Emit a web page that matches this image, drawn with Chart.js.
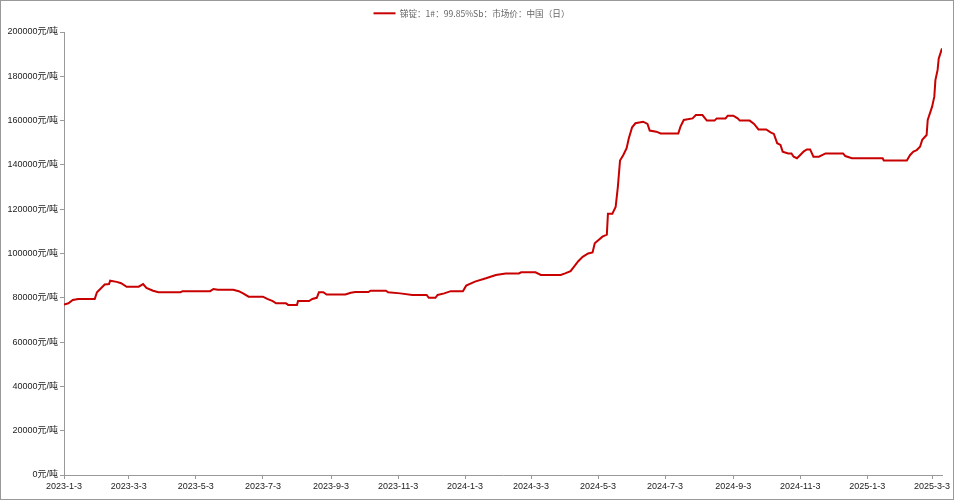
<!DOCTYPE html>
<html>
<head>
<meta charset="utf-8">
<title>锑锭价格</title>
<script src="https://cdn.jsdelivr.net/npm/chart.js@4.4.1/dist/chart.umd.min.js"></script>
<style>
  html, body { margin: 0; padding: 0; background: #fff; }
  #wrap { width: 954px; height: 500px; box-sizing: border-box; border: 1px solid #999; }
  canvas { display: block; }
</style>
</head>
<body>
<div id="wrap"><canvas id="priceChart" width="952" height="498"></canvas></div>
<script>
/* ------------------------------------------------
   Data
------------------------------------------------ */
const seriesName = '锑锭：1#：99.85%Sb：市场价：中国（日）';

const dates = [
  '2023-01-03','2023-01-07','2023-01-11','2023-01-16','2023-01-31','2023-02-02','2023-02-05','2023-02-09',
  '2023-02-13','2023-02-14','2023-02-20','2023-02-24','2023-03-01','2023-03-12','2023-03-16','2023-03-19',
  '2023-03-25','2023-03-30','2023-04-19','2023-04-21','2023-05-16','2023-05-19','2023-05-23','2023-06-06',
  '2023-06-11','2023-06-15','2023-06-20','2023-07-03','2023-07-07','2023-07-12','2023-07-15','2023-07-24',
  '2023-07-26','2023-08-03','2023-08-04','2023-08-14','2023-08-17','2023-08-21','2023-08-23','2023-08-27',
  '2023-08-30','2023-09-16','2023-09-21','2023-09-25','2023-10-07','2023-10-09','2023-10-23','2023-10-25',
  '2023-11-05','2023-11-16','2023-11-29','2023-12-01','2023-12-07','2023-12-09','2023-12-15','2023-12-21',
  '2024-01-01','2024-01-04','2024-01-12','2024-01-22','2024-01-31','2024-02-09','2024-02-21','2024-02-23',
  '2024-03-07','2024-03-12','2024-03-30','2024-04-03','2024-04-08','2024-04-11','2024-04-15','2024-04-19',
  '2024-04-24','2024-04-28','2024-04-30','2024-05-07','2024-05-11','2024-05-12','2024-05-16','2024-05-19',
  '2024-05-21','2024-05-23','2024-05-26','2024-05-29','2024-05-31','2024-06-03','2024-06-06','2024-06-13',
  '2024-06-17','2024-06-19','2024-06-25','2024-06-29','2024-07-15','2024-07-17','2024-07-20','2024-07-28',
  '2024-07-31','2024-08-06','2024-08-10','2024-08-17','2024-08-19','2024-08-27','2024-08-29','2024-09-03',
  '2024-09-07','2024-09-09','2024-09-18','2024-09-22','2024-09-26','2024-10-03','2024-10-07','2024-10-10',
  '2024-10-13','2024-10-16','2024-10-18','2024-10-23','2024-10-26','2024-10-28','2024-10-31','2024-11-03',
  '2024-11-06','2024-11-09','2024-11-12','2024-11-15','2024-11-20','2024-11-26','2024-12-12','2024-12-14',
  '2024-12-20','2025-01-17','2025-01-18','2025-02-08','2025-02-11','2025-02-14','2025-02-17','2025-02-20',
  '2025-02-22','2025-02-26','2025-02-27','2025-03-03','2025-03-05','2025-03-06','2025-03-08','2025-03-09',
  '2025-03-12'
];

const prices = [
  77000, 77500, 79000, 79500, 79500, 82500, 84000, 86000,
  86200, 87700, 87200, 86600, 85000, 85000, 86200, 84500,
  83200, 82500, 82500, 83000, 83000, 84000, 83600, 83600,
  83000, 82000, 80500, 80500, 79500, 78500, 77500, 77500,
  76800, 76800, 78500, 78500, 79500, 80000, 82500, 82500,
  81500, 81500, 82300, 82600, 82600, 83200, 83200, 82500,
  82000, 81300, 81300, 80000, 80000, 81300, 82000, 83000,
  83000, 85500, 87300, 88800, 90300, 91000, 91000, 91500,
  91500, 90300, 90300, 91000, 92000, 94000, 96500, 98500,
  100000, 100500, 104600, 107600, 108500, 118000, 118000, 121000,
  130000, 142000, 144500, 147500, 152000, 157000, 158800, 159500,
  158500, 155500, 155000, 154200, 154200, 157300, 160300, 161000,
  162500, 162500, 160000, 160000, 161000, 161000, 162200, 162200,
  161000, 160000, 160000, 158500, 156000, 156000, 154700, 154000,
  149800, 149000, 146000, 145200, 145200, 143700, 143000, 144500,
  146000, 147000, 147000, 143700, 143700, 145200, 145200, 144000,
  143000, 143000, 142000, 142000, 144500, 146000, 146700, 148200,
  151300, 153500, 160300, 166300, 170800, 178300, 182900, 188000,
  192600
];

const tickDates = [
  '2023-1-3', '2023-3-3', '2023-5-3', '2023-7-3', '2023-9-3', '2023-11-3', '2024-1-3',
  '2024-3-3', '2024-5-3', '2024-7-3', '2024-9-3', '2024-11-3', '2025-1-3', '2025-3-3'
];

const yMax = 200000;
const yStep = 20000;
const unit = '元/吨';

/* ------------------------------------------------
   Helpers
------------------------------------------------ */
// days since the first date, so the x axis keeps calendar spacing
const origin = Date.UTC(2023, 0, 3);
const dayOf = (s) => {
  const [y, m, d] = s.split('-').map(Number);
  return Math.round((Date.UTC(y, m - 1, d) - origin) / 86400000);
};

const points = dates.map((d, i) => ({ x: dayOf(d), y: prices[i] }));
const axisColor = '#999';
const textColor = '#222';
const tickFont = { family: '"Liberation Sans", "Noto Sans CJK SC", sans-serif', size: 9 };

// pin the legend band height so the plot starts where the reference does
const legendBand = {
  id: 'legendBand',
  afterInit(chart) {
    const legend = chart.legend;
    const fit = legend.fit;
    legend.fit = function () {
      fit.call(this);
      this.height = 31;
    };
  }
};

/* ------------------------------------------------
   Chart
------------------------------------------------ */
new Chart(document.getElementById('priceChart'), {
  type: 'line',
  data: {
    datasets: [{
      label: seriesName,
      data: points,
      borderColor: '#c80000',
      backgroundColor: '#c80000',
      borderWidth: 2,
      pointRadius: 0,
      tension: 0,
      fill: false
    }]
  },
  options: {
    responsive: false,
    animation: false,
    devicePixelRatio: 1,
    layout: { padding: { left: 0, right: 11, top: 0, bottom: 0 } },
    plugins: {
      tooltip: { enabled: false },
      legend: {
        position: 'top',
        labels: {
          usePointStyle: true,
          pointStyle: 'line',
          pointStyleWidth: 22,
          padding: 8,
          color: '#666',
          font: { family: '"Noto Sans CJK SC", sans-serif', size: 8.6 }
        }
      }
    },
    scales: {
      x: {
        type: 'linear',
        min: 0,
        max: dayOf(dates[dates.length - 1]),
        afterBuildTicks: (scale) => {
          scale.ticks = tickDates.map(t => ({ value: dayOf(t) }));
        },
        afterFit: (scale) => { scale.height = 24; },
        grid: { display: true, drawOnChartArea: false, drawTicks: true, tickLength: 4, color: axisColor },
        border: { display: true, color: axisColor, width: 1 },
        ticks: {
          autoSkip: false,
          maxRotation: 0,
          padding: 2,
          color: textColor,
          font: tickFont,
          callback: (v, i) => tickDates[i]
        }
      },
      y: {
        min: 0,
        max: yMax,
        afterFit: (scale) => { scale.width = 63; },
        grid: { display: true, drawOnChartArea: false, drawTicks: true, tickLength: 4, color: axisColor },
        border: { display: true, color: axisColor, width: 1 },
        ticks: {
          stepSize: yStep,
          padding: 2,
          color: textColor,
          font: tickFont,
          callback: (v) => v + unit
        }
      }
    }
  },
  plugins: [legendBand]
});
</script>
</body>
</html>
